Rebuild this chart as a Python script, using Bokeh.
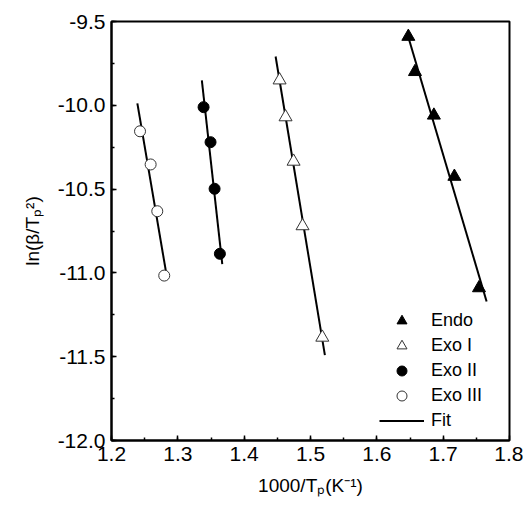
import numpy as np
from bokeh.plotting import figure
from bokeh.models import (Legend, LegendItem, FixedTicker, NumeralTickFormatter, Range1d)
from bokeh.embed import file_html
from bokeh.resources import INLINE

# ---- data ----
endo_x = [1.6475, 1.6575, 1.686, 1.7169, 1.754]
endo_y = [-9.59, -9.80, -10.06, -10.425, -11.09]
exo1_x = [1.4534, 1.4624, 1.4745, 1.488, 1.5178]
exo1_y = [-9.85, -10.07, -10.335, -10.72, -11.385]
exo2_x = [1.3388, 1.3493, 1.3554, 1.3634]
exo2_y = [-10.011, -10.220, -10.498, -10.886]
exo3_x = [1.243, 1.259, 1.269, 1.2795]
exo3_y = [-10.155, -10.353, -10.632, -11.016]

# x-extent of each fitted line
endo_fit_x = [1.646, 1.7655]
exo1_fit_x = [1.4474, 1.5217]
exo2_fit_x = [1.3362, 1.367]
exo3_fit_x = [1.239, 1.2825]

x_ticks = [1.2, 1.3, 1.4, 1.5, 1.6, 1.7, 1.8]
y_ticks = [-12.0, -11.5, -11.0, -10.5, -10.0, -9.5]

FONT = "Liberation Sans"

p = figure(width=523, height=500, output_backend="svg", toolbar_location=None,
           x_range=Range1d(1.2, 1.8), y_range=Range1d(-12.0, -9.5),
           min_border_left=111, min_border_right=14, min_border_top=21,
           min_border_bottom=60, title=None)
p.background_fill_color = "white"
p.border_fill_color = "white"
p.xgrid.visible = False
p.ygrid.visible = False
p.outline_line_color = "black"
p.outline_line_width = 2

for ax in (p.xaxis[0], p.yaxis[0]):
    ax.axis_line_width = 2
    ax.major_tick_in = 5
    ax.major_tick_out = 0
    ax.minor_tick_in = 3
    ax.minor_tick_out = 0
    ax.major_tick_line_width = 1.5
    ax.minor_tick_line_width = 1.5
    ax.major_label_text_font = FONT
    ax.major_label_text_font_size = "21px"
    ax.major_label_text_color = "black"
    ax.axis_label_text_font = FONT
    ax.axis_label_text_font_size = "19px"
    ax.axis_label_text_font_style = "normal"
    ax.axis_label_text_color = "black"
    ax.formatter = NumeralTickFormatter(format="0.0")

p.xaxis[0].ticker = FixedTicker(ticks=x_ticks, minor_ticks=list(np.arange(1.2, 1.81, 0.05)))
p.yaxis[0].ticker = FixedTicker(ticks=y_ticks, minor_ticks=list(np.arange(-12.0, -9.49, 0.25)))
p.xaxis[0].axis_label = "1000/Tₚ(K⁻¹)"
p.yaxis[0].axis_label = "ln(β/Tₚ²)"
p.xaxis[0].major_label_standoff = 6
p.yaxis[0].major_label_standoff = 6
p.xaxis[0].axis_label_standoff = 11
p.yaxis[0].axis_label_standoff = 12

def fit_line(xs, ys, fx):
    k, b = np.polyfit(xs, ys, 1)
    fx = np.array(fx)
    return p.line(fx, k * fx + b, line_color="black", line_width=2)

fits = [fit_line(endo_x, endo_y, endo_fit_x),
        fit_line(exo1_x, exo1_y, exo1_fit_x),
        fit_line(exo2_x, exo2_y, exo2_fit_x),
        fit_line(exo3_x, exo3_y, exo3_fit_x)]

r_endo = p.scatter(endo_x, endo_y, marker="triangle", size=13, fill_color="black",
                   line_color="black")
r_exo1 = p.scatter(exo1_x, exo1_y, marker="triangle", size=13, fill_color="white",
                   line_color="#333333", line_width=1)
r_exo2 = p.scatter(exo2_x, exo2_y, marker="circle", size=11, fill_color="black",
                   line_color="black")
r_exo3 = p.scatter(exo3_x, exo3_y, marker="circle", size=11, fill_color="white",
                   line_color="#333333", line_width=1)

legend = Legend(items=[
    LegendItem(label="Endo", renderers=[r_endo]),
    LegendItem(label="Exo I", renderers=[r_exo1]),
    LegendItem(label="Exo II", renderers=[r_exo2]),
    LegendItem(label="Exo III", renderers=[r_exo3]),
    LegendItem(label="Fit", renderers=[fits[0]]),
], location=(268, 7), border_line_color=None, background_fill_alpha=0,
    padding=0, margin=0, spacing=0, glyph_width=45, glyph_height=25,
    label_height=25, label_standoff=7, label_text_font=FONT,
    label_text_font_size="18px", label_text_color="black")
p.add_layout(legend, "center")

open("out.html", "w").write(file_html(p, INLINE))
